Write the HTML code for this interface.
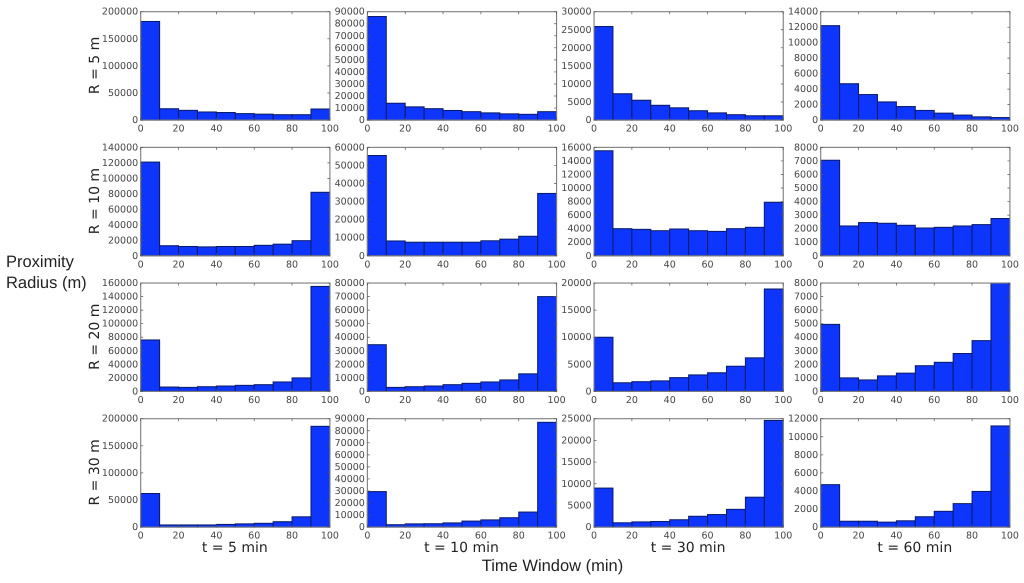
<!DOCTYPE html>
<html lang="en">
<head>
<meta charset="utf-8">
<title>Proximity radius histograms</title>
<style>
html,body{margin:0;padding:0;background:#fff;width:1024px;height:583px;overflow:hidden}
svg{display:block;filter:blur(0.35px);text-rendering:geometricPrecision}
.tick{font-family:"DejaVu Sans",sans-serif;font-size:9.5px;fill:#444}
.lab{font-family:"DejaVu Sans",sans-serif;font-size:14px;fill:#222}
.title{font-family:"Liberation Sans",sans-serif;font-size:16.5px;fill:#222}
</style>
</head>
<body>
<svg id="chart" xmlns="http://www.w3.org/2000/svg" width="1024" height="583" viewBox="0 0 1024 583">
<text class="title" x="6" y="267">Proximity</text>
<text class="title" x="6" y="288">Radius (m)</text>
<text class="title" x="552.5" y="571" text-anchor="middle">Time Window (min)</text>
</svg>
<script>
// Bin counts, one array per panel
const r5t5 = [182000, 21000, 18000, 15000, 14000, 12000, 11000, 10000, 10000, 20500];
const r5t10 = [86000, 14000, 11000, 9500, 8000, 7000, 6000, 5200, 4800, 7000];
const r5t30 = [25900, 7300, 5500, 4100, 3400, 2600, 2000, 1500, 1200, 1200];
const r5t60 = [12200, 4700, 3300, 2350, 1750, 1250, 900, 650, 420, 330];
const r10t5 = [121000, 13000, 12000, 11500, 12000, 12000, 13500, 15000, 19500, 82000];
const r10t10 = [55500, 8200, 7500, 7500, 7500, 7500, 8300, 9200, 10800, 34500];
const r10t30 = [15500, 4000, 3900, 3700, 3950, 3700, 3600, 4000, 4200, 7900];
const r10t60 = [7050, 2200, 2450, 2400, 2250, 2050, 2100, 2200, 2300, 2750];
const r20t5 = [76000, 6500, 6000, 7000, 8000, 9000, 10000, 14000, 20000, 155000];
const r20t10 = [34500, 3000, 3500, 4000, 5000, 6000, 7000, 8500, 13000, 70000];
const r20t30 = [10000, 1600, 1800, 1950, 2550, 3050, 3450, 4650, 6200, 18900];
const r20t60 = [4950, 1000, 850, 1150, 1350, 1900, 2150, 2800, 3750, 8000];
const r30t5 = [62000, 4000, 4000, 4000, 5000, 6000, 7000, 10000, 19000, 186000];
const r30t10 = [29500, 2000, 2700, 2800, 3500, 5000, 6000, 7800, 12500, 87000];
const r30t30 = [9000, 1000, 1200, 1300, 1700, 2500, 2900, 4100, 6900, 24600];
const r30t60 = [4700, 650, 650, 550, 700, 1150, 1750, 2600, 3950, 11200];

const panelValues = [
  [r5t5, r5t10, r5t30, r5t60],
  [r10t5, r10t10, r10t30, r10t60],
  [r20t5, r20t10, r20t30, r20t60],
  [r30t5, r30t10, r30t30, r30t60]
];
const yAxisMax = [
  [200000, 90000, 30000, 14000],
  [140000, 60000, 16000, 8000],
  [160000, 80000, 20000, 8000],
  [200000, 90000, 25000, 12000]
];
const yAxisStep = [
  [50000, 10000, 5000, 2000],
  [20000, 10000, 2000, 1000],
  [20000, 10000, 5000, 1000],
  [50000, 10000, 5000, 2000]
];
const xTickLabels = [0, 20, 40, 60, 80, 100];
const binEdges = [0, 10, 20, 30, 40, 50, 60, 70, 80, 90, 100];
const rowLabels = ["R = 5 m", "R = 10 m", "R = 20 m", "R = 30 m"];
const columnLabels = ["t = 5 min", "t = 10 min", "t = 30 min", "t = 60 min"];

const NS = "http://www.w3.org/2000/svg";
const svg = document.getElementById("chart");
const plotW = 189.2, plotH = 108.4;
const panelLeft = c => 140.7 + c * 226.67;
const panelTop = r => 11.7 + r * 135.67;

function make(parent, tag, props, text) {
  const n = document.createElementNS(NS, tag);
  for (const k in props) n.setAttribute(k, props[k]);
  if (text !== undefined) n.textContent = text;
  parent.appendChild(n);
  return n;
}

panelValues.forEach((rowVals, r) => {
  rowVals.forEach((vals, c) => {
    const L = panelLeft(c), T = panelTop(r);
    const xScale = v => L + (v / 100) * plotW;
    const yScale = v => T + plotH - (v / yAxisMax[r][c]) * plotH;
    const slug = rowLabels[r].replace(/\D/g, "") + "m-" + columnLabels[c].replace(/\D/g, "") + "min";

    const g = make(svg, "g", {});
    
    

    vals.forEach((v, i) => {
      const y = Math.max(yScale(v), T);
      const bar = make(g, "rect", {
        x: xScale(binEdges[i]), y: y,
        width: xScale(binEdges[i + 1]) - xScale(binEdges[i]),
        height: T + plotH - y,
        fill: "#0d35fb", stroke: "#0a1a66", "stroke-width": 1
      });
      
      
    });

    const frame = make(g, "rect", {
      x: L, y: T, width: plotW, height: plotH,
      fill: "none", stroke: "#7d7d7d", "stroke-width": 1.1
    });
    
    

    xTickLabels.forEach(t => {
      const x = xScale(t);
      const tickPath = make(g, "path", {
        d: "M" + x + " " + (T + plotH) + "v-2.5M" + x + " " + T + "v2.5",
        stroke: "#555", "stroke-width": 0.7, fill: "none"
      });
      
      
      const label = make(g, "text", {
        class: "tick", x: x, y: T + plotH + 11.5, "text-anchor": "middle"
      }, t);
      
      
    });

    for (let t = 0; t <= yAxisMax[r][c]; t += yAxisStep[r][c]) {
      const y = yScale(t);
      const tickPath = make(g, "path", {
        d: "M" + L + " " + y + "h2.5M" + (L + plotW) + " " + y + "h-2.5",
        stroke: "#555", "stroke-width": 0.7, fill: "none"
      });
      
      
      const label = make(g, "text", {
        class: "tick", x: L - 2.5, y: y + 3, "text-anchor": "end"
      }, t);
      
      
    }

    if (c === 0) {
      const cy = T + plotH / 2 - 0.5;
      const rowLabel = make(g, "text", {
        class: "lab", x: 0, y: 0, "text-anchor": "middle",
        transform: "translate(99 " + cy + ") rotate(-90)"
      }, rowLabels[r]);
      
      
    }
    if (r === panelValues.length - 1) {
      const colLabel = make(g, "text", {
        class: "lab", x: L + plotW / 2 - 0.5, y: 552, "text-anchor": "middle"
      }, columnLabels[c]);
      
      
    }
  });
});
</script>
</body>
</html>
